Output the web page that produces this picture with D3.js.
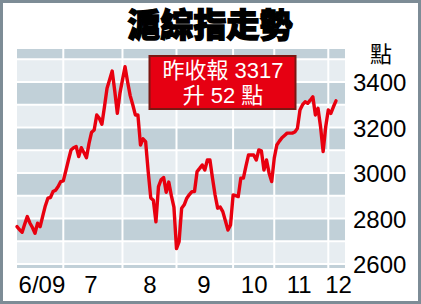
<!DOCTYPE html>
<html>
<head>
<meta charset="utf-8">
<script src="https://cdn.jsdelivr.net/npm/d3@7"></script>
<style>
  body { margin: 0; background: #fff; }
  svg { display: block; }
  text { font-family: "Liberation Sans", Arial, "Noto Sans CJK TC", sans-serif; }
</style>
</head>
<body>
<svg id="chart"></svg>
<script>
// daily close, Shanghai composite (Jun 2009 - 4 Dec 2009)
const close = [
  2764, 2750, 2739, 2775, 2808, 2780, 2760, 2735, 2779, 2764,
  2810, 2855, 2889, 2892, 2918, 2924, 2940, 2962, 2965, 3010,
  3057, 3101, 3111, 3116, 3072, 3111, 3090, 3067, 3130, 3179,
  3189, 3255, 3240, 3214, 3291, 3372, 3410, 3448, 3360, 3262,
  3350, 3409, 3467, 3400, 3340, 3300, 3255, 3255, 3123, 3150,
  3138, 3006, 2890, 2880, 2785, 2940, 2970, 2980, 2915, 2960,
  2900, 2850, 2667, 2698, 2845, 2860, 2889, 2905, 2918, 2918,
  3006, 3020, 3035, 3013, 3057, 3057, 2977, 2903, 2845, 2850,
  2830, 2790, 2749, 2771, 2903, 2900, 2896, 2977, 2977, 3030,
  3079, 3079, 3079, 3057, 3101, 3097, 3013, 3057, 2999, 2962,
  3065, 3123, 3140, 3155, 3165, 3175, 3175, 3175, 3180, 3196,
  3277, 3300, 3313, 3306, 3320, 3335, 3255, 3284, 3203, 3094,
  3203, 3277, 3262, 3291, 3317
]

// first trading day index of each month, and where its label sits
const monthStart = [0, 18, 41, 62, 84, 100, 121]
const monthLabel = ['6/09', '7', '8', '9', '10', '11', '12']
const labelDay = [9.5, 28.5, 51.5, 72.5, 92, 109.5, 124.8]

const yTicks = [2600, 2800, 3000, 3200, 3400]
const bandEdges = d3.range(2500, 3600, 100)

const title = '滬綜指走勢'
const unit = '點'
const noteLines = ['昨收報 3317', '升 52 點']

let width = 421
let height = 304
let plot = { left: 17, right: 345, top: 49, bottom: 268 }

let svg = d3.select('#chart')
  .attr('width', width)
  .attr('height', height)

let xScale = d3.scaleLinear()
  .domain([0, 127.5])
  .range([plot.left, plot.right])

let yScale = d3.scaleLinear()
  .domain([2582, 3545])
  .range([plot.bottom, plot.top])

/* clip for the striped background */
svg.append('clipPath')
    .attr('id', 'plotClip')
  .append('rect')
    .attr('x', plot.left)
    .attr('y', plot.top)
    .attr('width', plot.right - plot.left)
    .attr('height', plot.bottom - plot.top)

let bg = svg.append('g').attr('clip-path', 'url(#plotClip)')

/* alternating 100-point bands */
bg.selectAll('rect.band')
  .data(bandEdges)
  .enter()
  .append('rect')
    .attr('class', 'band')
    .attr('x', plot.left)
    .attr('width', plot.right - plot.left)
    .attr('y', d => yScale(d + 100))
    .attr('height', d => yScale(d) - yScale(d + 100))
    .attr('fill', d => (d / 100) % 2 === 1 ? '#c1d0d8' : '#e7edf1')

/* white horizontal lines */
bg.selectAll('line.h')
  .data(bandEdges)
  .enter()
  .append('line')
    .attr('x1', plot.left)
    .attr('x2', plot.right)
    .attr('y1', d => yScale(d))
    .attr('y2', d => yScale(d))
    .attr('stroke', '#fff')
    .attr('stroke-width', 2)

/* white vertical lines at month boundaries */
bg.selectAll('line.v')
  .data(monthStart.slice(1))
  .enter()
  .append('line')
    .attr('x1', d => xScale(d))
    .attr('x2', d => xScale(d))
    .attr('y1', plot.top)
    .attr('y2', plot.bottom)
    .attr('stroke', '#fff')
    .attr('stroke-width', 2)

/* the index line */
let line = d3.line()
  .x((d, i) => xScale(i))
  .y(d => yScale(d))

svg.append('path')
  .datum(close)
  .attr('d', line)
  .attr('fill', 'none')
  .attr('stroke', '#e8000f')
  .attr('stroke-width', 3.4)
  .attr('stroke-linejoin', 'round')
  .attr('stroke-linecap', 'round')

/* x axis labels */
let xAxis = d3.axisBottom(xScale)
  .tickValues(labelDay)
  .tickFormat((d, i) => monthLabel[i])
  .tickSize(0)

svg.append('g')
  .attr('transform', `translate(0, ${plot.bottom})`)
  .call(xAxis)
  .call(g => g.select('.domain').remove())
  .selectAll('text')
    .attr('y', 25)
    .attr('dy', 0)
    .style('font-size', '24px')
    .style('font-family', '"Liberation Sans", Arial, sans-serif')
    .attr('fill', '#000')

/* y axis labels on the right */
let yAxis = d3.axisRight(yScale)
  .tickValues(yTicks)
  .tickFormat(d3.format('d'))
  .tickSize(0)

svg.append('g')
  .attr('transform', `translate(353, 0)`)
  .call(yAxis)
  .call(g => g.select('.domain').remove())
  .selectAll('text')
    .attr('x', 0)
    .attr('dy', '0.36em')
    .style('font-size', '24px')
    .style('font-family', '"Liberation Sans", Arial, sans-serif')
    .attr('fill', '#000')

/* unit */
svg.append('text')
  .attr('x', 381)
  .attr('y', 62)
  .style('text-anchor', 'middle')
  .style('font-size', '22px')
  .style('font-family', '"Noto Sans CJK TC", sans-serif')
  .text(unit)

/* title */
svg.append('text')
  .attr('x', 210)
  .attr('y', 37)
  .style('text-anchor', 'middle')
  .style('font-size', '33px')
  .style('font-weight', 900)
  .style('font-family', '"Noto Sans CJK TC", sans-serif')
  .attr('stroke', '#000')
  .attr('stroke-width', 1.4)
  .attr('fill', '#000')
  .text(title)

/* last close note */
svg.append('rect')
  .attr('x', 149.5)
  .attr('y', 56)
  .attr('width', 146)
  .attr('height', 53)
  .attr('fill', '#e60012')
  .attr('stroke', '#7a1712')
  .attr('stroke-width', 2)

svg.selectAll('text.note')
  .data(noteLines)
  .enter()
  .append('text')
    .attr('class', 'note')
    .attr('x', 223)
    .attr('y', (d, i) => 78 + i * 25)
    .style('text-anchor', 'middle')
    .style('font-size', '22px')
    .attr('fill', '#fff')
    .text(d => d)

/* outer frame */
svg.append('rect')
  .attr('x', 1.5)
  .attr('y', 1.5)
  .attr('width', width - 3)
  .attr('height', height - 3)
  .attr('fill', 'none')
  .attr('stroke', '#7d8c96')
  .attr('stroke-width', 3)
</script>
</body>
</html>
